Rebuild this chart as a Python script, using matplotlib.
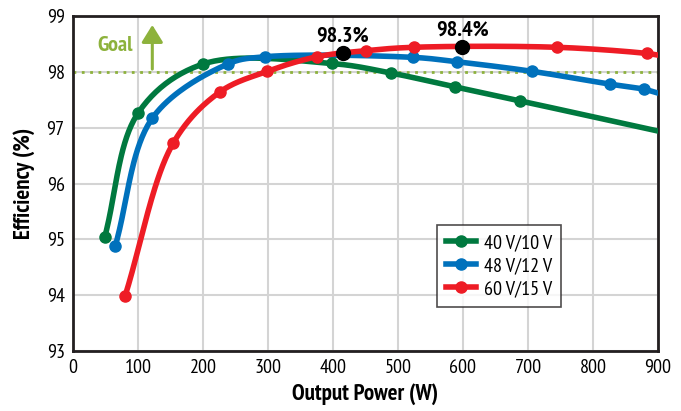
import numpy as np
import matplotlib
matplotlib.use("Agg")
import matplotlib.pyplot as plt

plt.rcParams['font.family'] = ['PT Sans Narrow', 'Fira Sans Condensed', 'Roboto Condensed',
                               'Asap Condensed', 'DejaVu Sans']

# data
p40 = [49, 100, 200, 398, 489, 588, 688, 900]
e40 = [95.05, 97.26, 98.14, 98.15, 97.98, 97.73, 97.48, 96.94]
p48 = [65, 122, 238, 295, 523, 591, 706, 826, 878, 900]
e48 = [94.88, 97.17, 98.14, 98.27, 98.26, 98.18, 98.01, 97.78, 97.69, 97.62]
p60 = [80, 154, 226, 299, 375, 451, 524, 745, 883, 900]
e60 = [93.98, 96.72, 97.64, 98.01, 98.27, 98.38, 98.44, 98.44, 98.33, 98.30]
peak_p = [415, 599]
peak_e = [98.33, 98.44]
peak_lbl = ["98.3%", "98.4%"]
goal = 98.0

series = [("40 V/10 V", p40, e40, "#00793f"),
          ("48 V/12 V", p48, e48, "#0071bc"),
          ("60 V/15 V", p60, e60, "#ee1c25")]


def smooth(x, y, n=40):
    # centripetal catmull-rom through the points, in roughly screen units
    sx, sy = 0.65, 55.8
    P = np.column_stack([np.asarray(x, float) * sx, np.asarray(y, float) * sy])
    P = np.vstack([2 * P[0] - P[1], P, 2 * P[-1] - P[-2]])
    out = []
    for i in range(1, len(P) - 2):
        p0, p1, p2, p3 = P[i - 1], P[i], P[i + 1], P[i + 2]
        t0 = 0
        t1 = t0 + np.linalg.norm(p1 - p0) ** 0.5
        t2 = t1 + np.linalg.norm(p2 - p1) ** 0.5
        t3 = t2 + np.linalg.norm(p3 - p2) ** 0.5
        t = np.linspace(t1, t2, n)[:, None]
        a1 = (t1 - t) / (t1 - t0) * p0 + (t - t0) / (t1 - t0) * p1
        a2 = (t2 - t) / (t2 - t1) * p1 + (t - t1) / (t2 - t1) * p2
        a3 = (t3 - t) / (t3 - t2) * p2 + (t - t2) / (t3 - t2) * p3
        b1 = (t2 - t) / (t2 - t0) * a1 + (t - t0) / (t2 - t0) * a2
        b2 = (t3 - t) / (t3 - t1) * a2 + (t - t1) / (t3 - t1) * a3
        out.append((t2 - t) / (t2 - t1) * b1 + (t - t1) / (t2 - t1) * b2)
    out = np.vstack(out)
    return out[:, 0] / sx, out[:, 1] / sy


fig = plt.figure(figsize=(6.81, 4.11), dpi=100)
ax = fig.add_axes([0.1072, 0.146, 0.859, 0.815])

for lbl, p, e, col in series:
    xs, ys = smooth(p, e)
    ax.plot(xs, ys, color=col, lw=4, solid_capstyle='round', zorder=3)
    ax.plot(p[:-1], e[:-1], 'o', color=col, ms=8, zorder=4)
    ax.plot([], [], color=col, lw=4, marker='o', ms=8, label=lbl)

ax.axhline(goal, color="#8db23c", lw=2, ls=(0, (1, 2)), zorder=2)
ax.annotate("", xy=(122, 98.89), xytext=(122, 98.0),
            arrowprops=dict(arrowstyle="-|>,head_width=0.65,head_length=1.05",
                            color="#8db23c", lw=2.2))
ax.text(65, 98.47, "Goal", color="#8db23c", fontsize=16, fontweight='bold',
        ha='center', va='center')

ax.plot(peak_p, peak_e, 'o', color='black', ms=10, zorder=5)
for px, pe, t in zip(peak_p, peak_e, peak_lbl):
    ax.text(px, pe + 0.14, t, fontsize=16, fontweight='bold', ha='center', va='bottom')

ax.set_xlim(0, 900)
ax.set_ylim(93, 99)
ax.set_xticks(range(0, 901, 100))
ax.set_yticks(range(93, 100))
ax.grid(color="#d4d4d4", lw=1.5)
ax.set_axisbelow(True)
for s in ax.spines.values():
    s.set_linewidth(2)
    s.set_color("#231f20")
ax.tick_params(length=0, labelsize=14.5, pad=6)
ax.set_xlabel("Output Power (W)", fontsize=16.5, fontweight='bold', labelpad=4)
ax.set_ylabel("Efficiency (%)", fontsize=16.5, fontweight='bold', labelpad=8)

leg = ax.legend(loc='lower left', bbox_to_anchor=(0.622, 0.131), fontsize=14.5,
                frameon=True, fancybox=False, edgecolor='#231f20',
                handlelength=1.5, handletextpad=0.4, borderpad=0.45,
                labelspacing=0.25, borderaxespad=0)
leg.get_frame().set_linewidth(1.2)

fig.savefig("out.png", dpi=100)
